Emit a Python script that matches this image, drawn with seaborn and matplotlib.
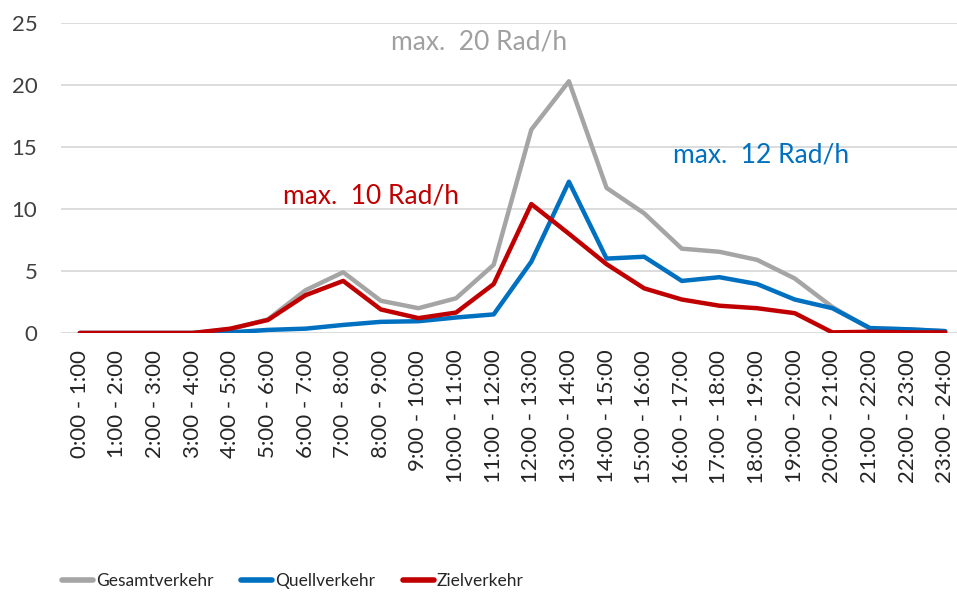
import pandas as pd
import matplotlib.pyplot as plt
import seaborn as sns

hours = [f"{h}:00 - {h + 1}:00" for h in range(24)]

gesamt = [0, 0, 0, 0, 0.3, 1.1, 3.45, 4.9, 2.6, 2.0, 2.8, 5.5,
          16.4, 20.3, 11.7, 9.65, 6.8, 6.55, 5.9, 4.4, 2.1, 0.35, 0.3, 0.15]
quell = [0, 0, 0, 0, 0.05, 0.25, 0.35, 0.65, 0.9, 0.95, 1.25, 1.5,
         5.75, 12.2, 6.0, 6.15, 4.2, 4.5, 3.95, 2.7, 2.0, 0.4, 0.3, 0.15]
ziel = [0, 0, 0, 0, 0.35, 1.05, 3.05, 4.2, 1.9, 1.2, 1.65, 3.95,
        10.4, 8.0, 5.55, 3.6, 2.7, 2.2, 2.0, 1.6, 0.05, 0.1, 0.05, 0.05]

series = ["Gesamtverkehr", "Quellverkehr", "Zielverkehr"]
colors = ["#A5A5A5", "#0070C0", "#C00000"]

df = pd.DataFrame({"Stunde": hours, "Gesamtverkehr": gesamt,
                   "Quellverkehr": quell, "Zielverkehr": ziel})
long = df.melt(id_vars="Stunde", var_name="Verkehr", value_name="Rad/h")

sns.set_style("white")
plt.rcParams['font.family'] = ['Lato', 'DejaVu Sans']

fig = plt.figure(figsize=(9.57, 5.98), dpi=100)
# plot area runs a little past the right edge, like the original crop
ax = fig.add_axes([61 / 957, 1 - 333 / 598, 903 / 957, 310 / 598])

sns.lineplot(data=long, x="Stunde", y="Rad/h", hue="Verkehr",
             hue_order=series, palette=colors, linewidth=3.2, ax=ax,
             sort=False)

ax.set_xlim(-0.5, 23.5)
ax.set_ylim(0, 25)
ax.set_yticks(range(0, 26, 5))
ax.yaxis.grid(True, color="#D9D9D9", linewidth=1.3)
ax.set_axisbelow(True)
for s in ax.spines.values():
    s.set_visible(False)
ax.set_xlabel("")
ax.set_ylabel("")
ax.tick_params(axis="y", labelsize=16, colors="#404040", length=0, pad=17)
ax.tick_params(axis="x", labelsize=16, colors="#262626", length=0, pad=12)
plt.setp(ax.get_xticklabels(), rotation=90)

ax.text(10.6, 23.5, "max.  20 Rad/h", color="#A0A0A0", fontsize=19,
        ha="center", va="center")
ax.text(18.1, 14.35, "max.  12 Rad/h", color="#0070C0", fontsize=19,
        ha="center", va="center")
ax.text(7.75, 11.05, "max.  10 Rad/h", color="#C00000", fontsize=19,
        ha="center", va="center")

handles, labels = ax.get_legend_handles_labels()
ax.get_legend().remove()
leg = fig.legend(handles, labels, loc="center left",
                 bbox_to_anchor=(62 / 957, 1 - 581 / 598), ncol=3,
                 frameon=False, fontsize=12.5,
                 handlelength=1.8, handletextpad=0.15,
                 columnspacing=1.6, borderpad=0, borderaxespad=0)
for line in leg.get_lines():
    line.set_linewidth(4)

plt.savefig("out.png", dpi=100)
